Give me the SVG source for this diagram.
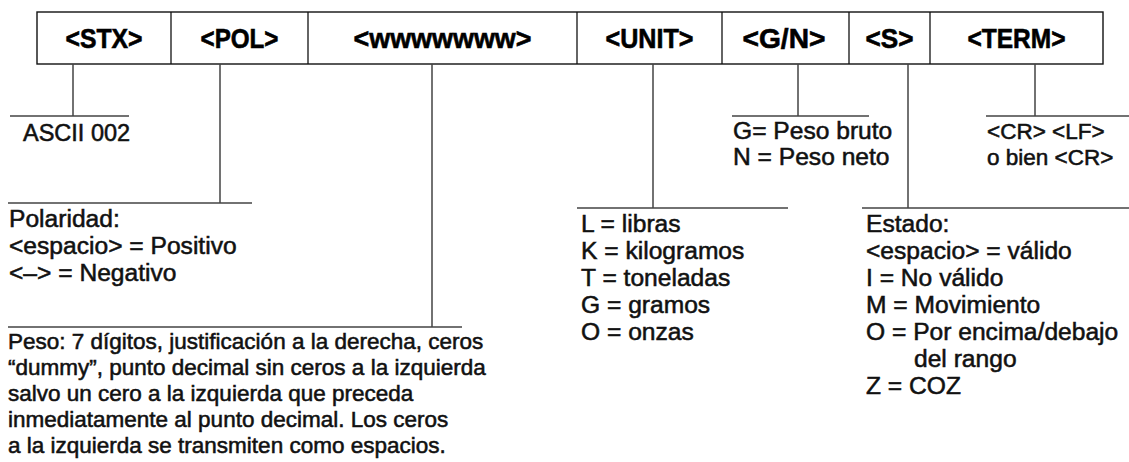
<svg xmlns="http://www.w3.org/2000/svg" width="1129" height="462" viewBox="0 0 1129 462">
<style>
.box{fill:#fff;stroke:#111;stroke-width:1.4}
.div{stroke:#111;stroke-width:1.3}
.hd{font-family:"Liberation Sans",Arial,sans-serif;font-weight:bold;font-size:28px;fill:#000;stroke:#000;stroke-width:0.6;text-anchor:middle}
.tx{font-family:"Liberation Sans",Arial,sans-serif;font-size:22.5px;fill:#111;stroke:#111;stroke-width:0.55}
.lg{font-size:24.6px}
.md{font-size:23.5px}
.cn{stroke:#444;stroke-width:1.5;fill:none}
</style>
<rect width="1129" height="462" fill="#fff"/>
<g id="frame">
<rect class="box" x="37" y="12" width="1066" height="52"/>
</g>
<g id="stx"><text class="hd" x="104" y="48" textLength="77" lengthAdjust="spacingAndGlyphs">&lt;STX&gt;</text></g>
<g id="pol"><line class="div" x1="171" y1="12" x2="171" y2="64"/><text class="hd" x="239.5" y="48" textLength="78" lengthAdjust="spacingAndGlyphs">&lt;POL&gt;</text></g>
<g id="www"><line class="div" x1="308" y1="12" x2="308" y2="64"/><text class="hd" x="442.5" y="48" textLength="178" lengthAdjust="spacingAndGlyphs">&lt;wwwwwww&gt;</text></g>
<g id="unit"><line class="div" x1="577" y1="12" x2="577" y2="64"/><text class="hd" x="649.5" y="48" textLength="88" lengthAdjust="spacingAndGlyphs">&lt;UNIT&gt;</text></g>
<g id="gn"><line class="div" x1="722" y1="12" x2="722" y2="64"/><text class="hd" x="784" y="48" textLength="83" lengthAdjust="spacingAndGlyphs">&lt;G/N&gt;</text></g>
<g id="s"><line class="div" x1="849" y1="12" x2="849" y2="64"/><text class="hd" x="889.5" y="48" textLength="48" lengthAdjust="spacingAndGlyphs">&lt;S&gt;</text></g>
<g id="term"><line class="div" x1="930" y1="12" x2="930" y2="64"/><text class="hd" x="1016.5" y="48" textLength="98" lengthAdjust="spacingAndGlyphs">&lt;TERM&gt;</text></g>
<g id="connectors">
<path class="cn" d="M73 64V116M10 116H129"/>
<path class="cn" d="M220 64V203M8 203H252"/>
<path class="cn" d="M432 64V327M8 327H462"/>
<path class="cn" d="M653 64V208M577 208H788"/>
<path class="cn" d="M798 64V116M732 116H869"/>
<path class="cn" d="M908 64V208M862 208H1129"/>
<path class="cn" d="M1035 64V116M986 116H1129"/>
</g>
<g id="stx-desc"><text class="tx md" x="23" y="141">ASCII 002</text></g>
<g id="pol-desc">
<text class="tx lg" x="9" y="227">Polaridad:</text>
<text class="tx lg" x="9" y="254">&lt;espacio&gt; = Positivo</text>
<text class="tx lg" x="9" y="281">&lt;–&gt; = Negativo</text>
</g>
<g id="www-desc">
<text class="tx" x="8" y="349">Peso: 7 dígitos, justificación a la derecha, ceros</text>
<text class="tx" x="8" y="375">“dummy”, punto decimal sin ceros a la izquierda</text>
<text class="tx" x="8" y="401">salvo un cero a la izquierda que preceda</text>
<text class="tx" x="8" y="427">inmediatamente al punto decimal. Los ceros</text>
<text class="tx" x="8" y="453">a la izquierda se transmiten como espacios.</text>
</g>
<g id="unit-desc">
<text class="tx lg" x="581" y="232">L = libras</text>
<text class="tx lg" x="581" y="259">K = kilogramos</text>
<text class="tx lg" x="581" y="286">T = toneladas</text>
<text class="tx lg" x="581" y="313">G = gramos</text>
<text class="tx lg" x="581" y="340">O = onzas</text>
</g>
<g id="gn-desc">
<text class="tx lg" x="733" y="139">G= Peso bruto</text>
<text class="tx lg" x="733" y="165">N = Peso neto</text>
</g>
<g id="s-desc">
<text class="tx lg" x="866" y="232">Estado:</text>
<text class="tx lg" x="866" y="259">&lt;espacio&gt; = válido</text>
<text class="tx lg" x="866" y="286">I = No válido</text>
<text class="tx lg" x="866" y="313">M = Movimiento</text>
<text class="tx lg" x="866" y="340">O = Por encima/debajo</text>
<text class="tx lg" x="914" y="367">del rango</text>
<text class="tx lg" x="866" y="394">Z = COZ</text>
</g>
<g id="term-desc">
<text class="tx" x="987" y="139">&lt;CR&gt; &lt;LF&gt;</text>
<text class="tx" x="987" y="165">o bien &lt;CR&gt;</text>
</g>
</svg>
